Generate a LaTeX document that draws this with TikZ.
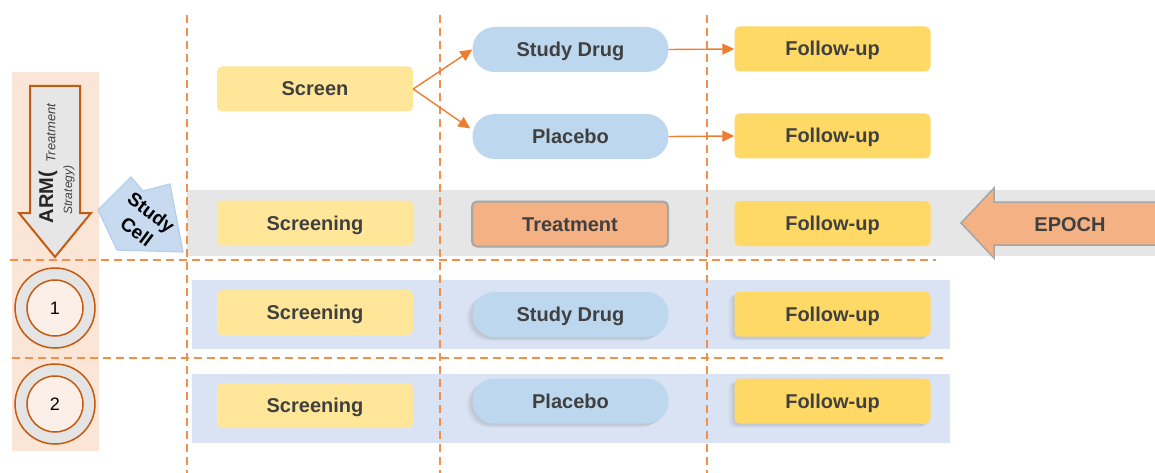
\documentclass[tikz,border=0pt]{standalone}
\usepackage{fontspec}
\setmainfont{Liberation Sans}
\usetikzlibrary{arrows.meta,calc,shadows}

\definecolor{dashorange}{HTML}{F0904A}
\definecolor{arrorange}{HTML}{ED7D31}
\definecolor{scrfill}{HTML}{FFE699}
\definecolor{fufill}{HTML}{FFD966}
\definecolor{pillfill}{HTML}{BDD7EE}
\definecolor{bandblue}{HTML}{DAE3F3}
\definecolor{bandgray}{HTML}{E6E6E6}
\definecolor{peach}{HTML}{FBE5D6}
\definecolor{trtfill}{HTML}{F4B183}
\definecolor{rimgray}{HTML}{A6A6A6}
\definecolor{rust}{HTML}{C55A11}
\definecolor{txt}{HTML}{404040}
\definecolor{cellblue}{HTML}{C7DAF0}
\definecolor{cellrim}{HTML}{B4CEEB}
\definecolor{ringgray}{HTML}{E4E4E4}
\definecolor{ringcore}{HTML}{FCEFE8}

\tikzset{
  box/.style={rectangle, rounded corners=5pt, minimum width=196pt, minimum height=45pt,
    inner sep=0pt, text height=14pt, text depth=0pt, text=txt,
    font=\fontsize{20}{22}\selectfont\bfseries},
  scr/.style={box, fill=scrfill},
  fu/.style={box, fill=fufill},
  pill/.style={box, fill=pillfill, rounded corners=22pt},
  trt/.style={box, fill=trtfill, draw=rimgray, line width=2pt},
  lifted/.style={
    general shadow={shadow xshift=-6pt, shadow yshift=-4pt, opacity=0.03, fill=black},
    general shadow={shadow xshift=-4pt, shadow yshift=-3pt, opacity=0.04, fill=black},
    general shadow={shadow xshift=-2pt, shadow yshift=-2pt, opacity=0.05, fill=black}},
  guide/.style={draw=dashorange, line width=1.4pt, dash pattern=on 8pt off 5pt},
  flow/.style={draw=arrorange, line width=1.4pt, -{Triangle[length=12pt,width=11pt]}},
  ring/.style={circle, draw=rust, line width=1.5pt, inner sep=0pt},
}

\begin{document}
\begin{tikzpicture}[x=1pt,y=-1pt]
\useasboundingbox (0,0) rectangle (1155,473);

% backgrounds: arm column, epoch band, arm rows
\fill[peach] (12,72) rectangle (99,451);
\fill[bandgray] (187,190) rectangle (1155,256);
\fill[bandblue] (192,280) rectangle (950,349);
\fill[bandblue] (192,374) rectangle (950,443);

% epoch arrow
\draw[fill=trtfill, draw=rimgray, line width=1.5pt]
  (1160,202) -- (994,202) -- (994,188) -- (961,223) -- (994,258) -- (994,245) -- (1160,245);
\node[text=txt, text height=14pt, text depth=0pt, font=\fontsize{20}{22}\selectfont\bfseries] (epoch) at (1070,224) {EPOCH};

% grid lines
\draw[guide] (187,15) -- (187,473);
\draw[guide] (440,15) -- (440,473);
\draw[guide] (707,15) -- (707,473);
\draw[guide] (10,260) -- (936,260);
\draw[guide] (12,358) -- (946,358);

% study design flow
\node[scr] (screen) at (315,89) {Screen};
\node[pill] (sdTop) at (570.5,49.5) {Study Drug};
\node[pill] (pbTop) at (570.5,136.5) {Placebo};
\node[fu] (fuTop1) at (832.5,49) {Follow-up};
\node[fu] (fuTop2) at (832.5,136) {Follow-up};

\draw[flow] (screen.east) -- (sdTop.west);
\draw[flow] (screen.east) -- ($(pbTop.west)+(-2,-8)$);
\draw[flow] (sdTop.east) -- (fuTop1.west);
\draw[flow] (pbTop.east) -- (fuTop2.west);

% epochs
\node[scr] (scrE) at (315,223) {Screening};
\node[trt] (trtE) at (570,224) {Treatment};
\node[fu] (fuE) at (832.5,223.5) {Follow-up};

% arm 1
\node[scr] (scr1) at (315,312.5) {Screening};
\node[pill, lifted] (sd1) at (570.5,314.5) {Study Drug};
\node[fu, lifted] (fu1) at (832.5,314) {Follow-up};

% arm 2
\node[scr] (scr2) at (315,405.5) {Screening};
\node[pill, lifted] (pb2) at (570.5,401) {Placebo};
\node[fu, lifted] (fu2) at (832.5,401) {Follow-up};

% arm arrow
\draw[fill=bandgray, draw=rust, line width=2pt]
  (30,86) -- (80,86) -- (80,213) -- (91,213) -- (55,257) -- (19,213) -- (30,213) -- cycle;
\node[rotate=90, text=black!85, font=\fontsize{20}{22}\selectfont\bfseries] (arm) at (48,197) {ARM(};
\node[rotate=90, text=black!75, font=\fontsize{13}{15}\selectfont\itshape] (armA) at (51,133) {Treatment};
\node[rotate=90, text=black!75, font=\fontsize{12}{14}\selectfont\itshape] (armB) at (69,190) {Strategy)};

% arm numbers
\node[ring, fill=ringgray, minimum size=80pt] (c1o) at (55,308) {};
\node[ring, fill=ringcore, minimum size=56pt, font=\fontsize{18}{20}\selectfont] (c1) at (55,308) {1};
\node[ring, fill=ringgray, minimum size=80pt] (c2o) at (55,404) {};
\node[ring, fill=ringcore, minimum size=56pt, font=\fontsize{18}{20}\selectfont] (c2) at (55,404) {2};

% study cell arrow
\draw[fill=cellblue, draw=cellrim, line width=1.2pt]
  (98,210) -- (131,177) -- (143,191) -- (170,184) -- (183,252) -- (117,250) -- cycle;
\node[rotate=-37, align=center, text=black, font=\fontsize{19}{24}\selectfont\bfseries] (cell) at (144,222) {Study\\Cell};
\end{tikzpicture}
\end{document}
